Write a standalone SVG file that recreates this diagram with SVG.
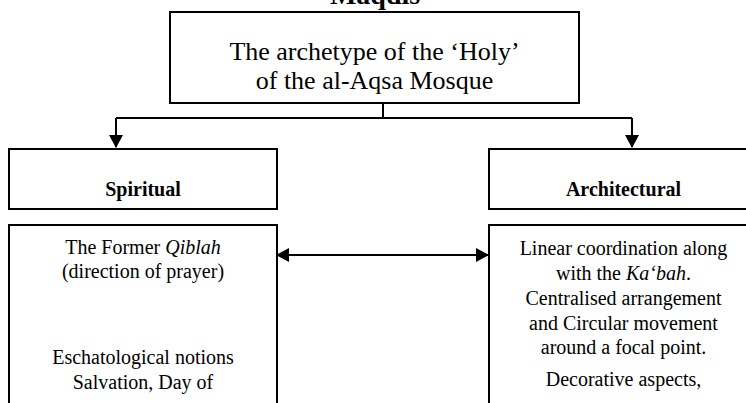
<svg xmlns="http://www.w3.org/2000/svg" width="746" height="403" viewBox="0 0 746 403">
<style>
.box{fill:#fff;stroke:#000;stroke-width:2}
.t{font-family:"Liberation Serif","Times New Roman",serif;fill:#000;text-anchor:middle}
.b{font-weight:bold}
.c{stroke:#000;stroke-width:2;fill:none}
</style>
<defs>
<marker id="ah" markerWidth="14" markerHeight="14" refX="12" refY="7" orient="auto" markerUnits="userSpaceOnUse">
<path d="M0,0 L13,7 L0,14 Z" fill="#000"/>
</marker>
</defs>
<rect width="746" height="403" fill="#fff"/>
<text class="t b" x="375" y="4" font-size="28">Maqdis</text>
<g id="connectors">
<path class="c" d="M383,103 V118 M116,118 H632"/>
<path class="c" d="M116,118 V147" marker-end="url(#ah)"/>
<path class="c" d="M632,118 V147" marker-end="url(#ah)"/>
<path class="c" d="M465,255 H488" marker-end="url(#ah)"/>
<path class="c" d="M300,255 H277" marker-end="url(#ah)"/>
<path class="c" d="M298,255 H467"/>
</g>
<g id="archetype">
<rect class="box" x="170" y="12" width="409" height="91"/>
<text class="t" x="374.5" y="60" font-size="26">The archetype of the ‘Holy’</text>
<text class="t" x="374.5" y="89" font-size="26">of the al-Aqsa Mosque</text>
</g>
<g id="spiritual">
<rect class="box" x="9" y="149" width="268" height="60"/>
<text class="t b" x="143" y="196" font-size="20">Spiritual</text>
</g>
<g id="architectural">
<rect class="box" x="489" y="149" width="269" height="60"/>
<text class="t b" x="623.5" y="196" font-size="20">Architectural</text>
</g>
<g id="spiritual-content">
<rect class="box" x="9" y="225" width="268" height="200"/>
<text class="t" x="143" y="254" font-size="20">The Former <tspan font-style="italic">Qiblah</tspan></text>
<text class="t" x="143" y="278" font-size="20">(direction of prayer)</text>
<text class="t" x="143" y="364" font-size="20">Eschatological notions</text>
<text class="t" x="143" y="389" font-size="20">Salvation, Day of</text>
</g>
<g id="architectural-content">
<rect class="box" x="489" y="225" width="269" height="200"/>
<text class="t" x="623.5" y="255" font-size="20">Linear coordination along</text>
<text class="t" x="623.5" y="280" font-size="20">with the <tspan font-style="italic">Ka‘bah</tspan>.</text>
<text class="t" x="623.5" y="305" font-size="20">Centralised arrangement</text>
<text class="t" x="623.5" y="330" font-size="20">and Circular movement</text>
<text class="t" x="623.5" y="354" font-size="20">around a focal point.</text>
<text class="t" x="623.5" y="386" font-size="20">Decorative aspects,</text>
</g>
</svg>
